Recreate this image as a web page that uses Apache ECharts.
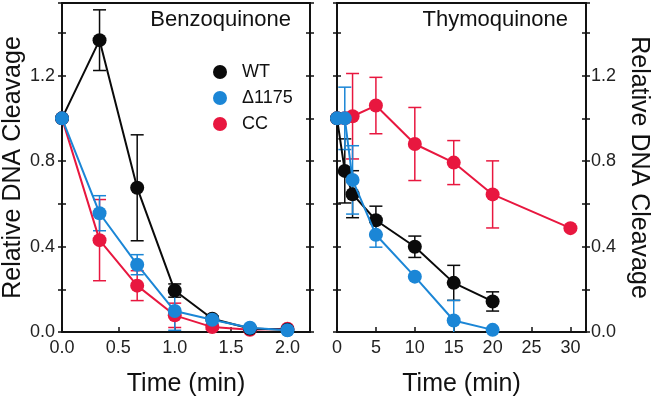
<!DOCTYPE html>
<html>
<head>
<meta charset="utf-8">
<script src="https://cdn.jsdelivr.net/npm/echarts@6/dist/echarts.min.js"></script>
<style>
html,body{margin:0;padding:0;background:#fff;}
#c{width:652px;height:402px;}
</style>
</head>
<body>
<div id="c"></div>
<script>
// ---- Data ----
var benzoX   = [0, 0.333, 0.667, 1.0, 1.333, 1.667, 2.0];
var benzoWT  = [1.0, 1.366, 0.675, 0.194, 0.062, 0.016, 0.010];
var benzoWTErr = [0, 0.142, 0.248, 0.031, 0.012, 0, 0];
var benzoD   = [1.0, 0.556, 0.315, 0.098, 0.057, 0.020, 0.008];
var benzoDErr = [0, 0.082, 0.047, 0.090, 0.018, 0.005, 0];
var benzoCC  = [1.0, 0.430, 0.217, 0.078, 0.023, 0.010, 0.015];
var benzoCCErr = [0, 0.190, 0.070, 0.057, 0.010, 0, 0];

var thymoX     = [0, 1, 2, 5, 10, 15, 20];
var thymoWT    = [1.0, 0.754, 0.645, 0.523, 0.399, 0.230, 0.143];
var thymoWTErr = [0, 0.150, 0.110, 0.066, 0.050, 0.082, 0.045];
var thymoD     = [1.0, 1.0, 0.712, 0.455, 0.259, 0.054, 0.010];
var thymoDErr  = [0, 0.146, 0.160, 0.058, 0, 0.094, 0];
var thymoCCX   = [0, 1, 2, 5, 10, 15, 20, 30];
var thymoCC    = [1.0, 1.0, 1.010, 1.060, 0.880, 0.793, 0.644, 0.486];
var thymoCCErr = [0, 0, 0.200, 0.132, 0.171, 0.103, 0.157, 0];

var seriesNames = ['WT', '\u0394' + '1175', 'CC'];
var colors = ['#0a0a0a', '#1b86d6', '#e8173f'];
var yLabelTicks = [0, 0.4, 0.8, 1.2];
var benzoXLabels = [0, 0.5, 1.0, 1.5, 2.0];
var thymoXLabels = [0, 5, 10, 15, 20, 25, 30];

var FONT = 'Liberation Sans, Arial, Helvetica, sans-serif';
var AXC = '#111';

function pts(xs, ys) { return xs.map(function (x, i) { return [x, ys[i]]; }); }
function errPts(xs, ys, es) {
  var out = [];
  xs.forEach(function (x, i) { if (es[i] > 0) out.push([x, ys[i] - es[i], ys[i] + es[i]]); });
  return out;
}
function errSeries(name, xi, yi, data, color) {
  return {
    type: 'custom', name: name, xAxisIndex: xi, yAxisIndex: yi, z: 3,
    data: data, silent: true,
    renderItem: function (params, api) {
      var x = api.value(0), lo = api.value(1), hi = api.value(2);
      var showLo = lo >= 0;
      if (lo < 0) lo = 0;
      var p1 = api.coord([x, hi]), p2 = api.coord([x, lo]);
      var hw = 6.5, st = { stroke: color, lineWidth: 1.5 };
      var ch = [
        { type: 'line', shape: { x1: p1[0], y1: p1[1], x2: p2[0], y2: p2[1] }, style: st },
        { type: 'line', shape: { x1: p1[0] - hw, y1: p1[1], x2: p1[0] + hw, y2: p1[1] }, style: st }
      ];
      if (showLo) ch.push({ type: 'line', shape: { x1: p2[0] - hw, y1: p2[1], x2: p2[0] + hw, y2: p2[1] }, style: st });
      return { type: 'group', children: ch };
    }
  };
}
function lineSeries(name, xi, yi, data, color, z) {
  return {
    type: 'line', name: name, xAxisIndex: xi, yAxisIndex: yi, data: data,
    symbol: 'circle', symbolSize: 14, z: z,
    itemStyle: { color: color }, lineStyle: { color: color, width: 2 },
    emphasis: { disabled: true }, animation: false
  };
}

function yFmt(v) {
  var r = Math.round(v * 10);
  if (Math.abs(v * 10 - r) > 1e-6) return '';
  return (r % 4 === 0 && v <= 1.2 + 1e-9) ? v.toFixed(1) : '';
}
function yAxes(gi, labelSide) {
  var base = {
    gridIndex: gi, type: 'value', min: 0, max: 1.54, interval: 0.2,
    splitLine: { show: false },
    axisLine: { show: true, onZero: false, lineStyle: { color: AXC, width: 1.8 } }
  };
  function mk(pos, inside, labels) {
    return Object.assign({}, base, {
      position: pos,
      axisTick: { show: true, inside: inside, length: 4, lineStyle: { color: AXC, width: 1.5 } },
      axisLabel: labels ? { show: true, formatter: yFmt, fontSize: 18, color: '#222', fontFamily: FONT, margin: labelSide === 'left' ? 7 : 5 } : { show: false }
    });
  }
  var arr = [
    mk('left', false, labelSide === 'left'),
    mk('left', true, false),
    mk('right', false, labelSide === 'right'),
    mk('right', true, false)
  ];
  var nameAxis = labelSide === 'left' ? arr[0] : arr[2];
  nameAxis.name = 'Relative DNA Cleavage';
  nameAxis.nameLocation = 'middle';
  nameAxis.nameGap = labelSide === 'left' ? 32 : 40;
  nameAxis.nameRotate = labelSide === 'left' ? 90 : -90;
  nameAxis.nameTextStyle = { fontSize: 25, color: '#111', fontFamily: FONT };
  return arr;
}
function xAxes(gi, max, interval, labelMax, decimals) {
  return [
    {
      gridIndex: gi, type: 'value', position: 'bottom', min: 0, max: max, interval: interval,
      splitLine: { show: false },
      axisLine: { show: true, onZero: false, lineStyle: { color: AXC, width: 1.8 } },
      axisTick: { show: true, inside: true, length: 5, lineStyle: { color: AXC, width: 1.5 } },
      axisLabel: {
        fontSize: 18, color: '#222', fontFamily: FONT, margin: 7,
        formatter: function (v) { return v > labelMax + 1e-9 ? '' : v.toFixed(decimals); }
      },
      name: 'Time (min)', nameLocation: 'middle', nameGap: 40,
      nameTextStyle: { fontSize: 25, color: '#111', fontFamily: FONT }
    },
    {
      gridIndex: gi, type: 'value', position: 'top', min: 0, max: max,
      splitLine: { show: false },
      axisLine: { show: true, onZero: false, lineStyle: { color: AXC, width: 1.8 } },
      axisTick: { show: false }, axisLabel: { show: false }
    }
  ];
}

var chart = echarts.init(document.getElementById('c'), null, { renderer: 'canvas' });

var xAxis = [].concat(xAxes(0, 2.2, 0.5, 2.0, 1), xAxes(1, 32, 5, 30, 0));
var yAxis = [].concat(yAxes(0, 'left'), yAxes(1, 'right'));

var series = [
  // left panel (grid 0): xAxis 0, yAxis 0
  errSeries('errCC1', 0, 0, errPts(benzoX, benzoCC, benzoCCErr), colors[2]),
  lineSeries(seriesNames[2], 0, 0, pts(benzoX, benzoCC), colors[2], 4),
  errSeries('errWT1', 0, 0, errPts(benzoX, benzoWT, benzoWTErr), colors[0]),
  lineSeries(seriesNames[0], 0, 0, pts(benzoX, benzoWT), colors[0], 5),
  errSeries('errD1', 0, 0, errPts(benzoX, benzoD, benzoDErr), colors[1]),
  lineSeries(seriesNames[1], 0, 0, pts(benzoX, benzoD), colors[1], 6),
  // right panel (grid 1): xAxis 2, yAxis 4
  errSeries('errCC2', 2, 4, errPts(thymoCCX, thymoCC, thymoCCErr), colors[2]),
  lineSeries(seriesNames[2], 2, 4, pts(thymoCCX, thymoCC), colors[2], 4),
  errSeries('errWT2', 2, 4, errPts(thymoX, thymoWT, thymoWTErr), colors[0]),
  lineSeries(seriesNames[0], 2, 4, pts(thymoX, thymoWT), colors[0], 5),
  errSeries('errD2', 2, 4, errPts(thymoX, thymoD, thymoDErr), colors[1]),
  lineSeries(seriesNames[1], 2, 4, pts(thymoX, thymoD), colors[1], 6)
];

chart.setOption({
  animation: false,
  backgroundColor: '#ffffff',
  textStyle: { fontFamily: FONT },
  grid: [
    { left: 62, top: 3, width: 248, height: 332 },
    { left: 337, top: 3, width: 251, height: 332 }
  ],
  title: [
    { text: 'Benzoquinone', right: 361, top: 9, padding: 0,
      textStyle: { fontSize: 22, fontWeight: 'normal', color: '#111', fontFamily: FONT } },
    { text: 'Thymoquinone', right: 84, top: 9, padding: 0,
      textStyle: { fontSize: 22, fontWeight: 'normal', color: '#111', fontFamily: FONT } }
  ],
  legend: {
    data: seriesNames, orient: 'vertical', left: 213, top: 62, padding: 0,
    icon: 'circle', itemWidth: 34, itemHeight: 14, itemGap: 6,
    textStyle: { fontSize: 18, lineHeight: 20, color: '#111', fontFamily: FONT },
    selectedMode: false
  },
  xAxis: xAxis,
  yAxis: yAxis,
  series: series
});
</script>
</body>
</html>
